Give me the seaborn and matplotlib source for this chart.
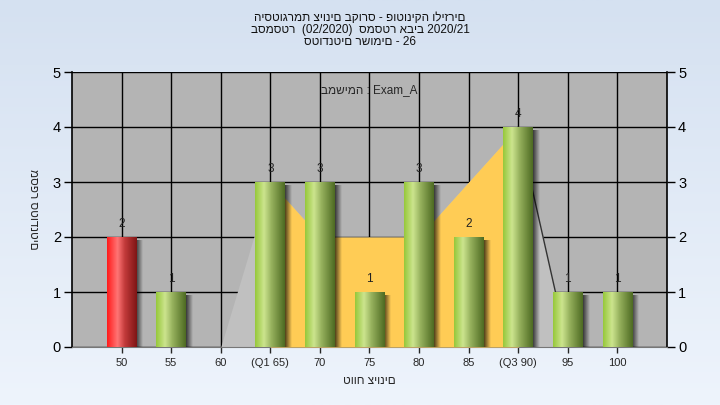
import numpy as np
import pandas as pd
import seaborn as sns
import matplotlib.pyplot as plt
from matplotlib.colors import LinearSegmentedColormap

# grade bins and counts
grades = ["50", "55", "60", "(Q1 65)", "70", "75", "80", "85", "(Q3 90)", "95", "100"]
counts = [2, 1, 0, 3, 3, 1, 3, 2, 4, 1, 1]
# background distribution polygon
area_vals = [0, 0, 0, 3, 2, 2, 2, 3, 4, 0, 0]
q1_idx, q3_idx = 3, 8

title_lines = ["היסטוגרמת ציונים בקורס - פוטוניקה וליזרים",
               "בסמסטר  (02/2020)  סמסטר אביב 2020/21",
               "סטודנטים רשומים - 26"]
task_text = "במשימה : Exam_A"
xlabel = "טווח ציונים"
ylabel = "מספר סטודנטים"

sns.set_style("white")
plt.rcParams['font.family'] = ['Liberation Sans', 'DejaVu Sans']

fig = plt.figure(figsize=(7.2, 4.05), dpi=100)

# figure background gradient
bg = fig.add_axes([0, 0, 1, 1], zorder=-10)
grad = np.linspace(0, 1, 256).reshape(-1, 1)
bg_cmap = LinearSegmentedColormap.from_list("bg", ["#d5e1f1", "#eef4fc"])
bg.imshow(grad, aspect="auto", cmap=bg_cmap, extent=[0, 1, 0, 1], origin="upper")
bg.axis("off")

ax = fig.add_axes([72 / 720, 58 / 405, 595 / 720, 275 / 405])
ax.set_facecolor("#b4b4b4")

df = pd.DataFrame({"grade": grades, "count": counts})
sns.barplot(data=df, x="grade", y="count", order=grades, width=0.6,
            color="#9bcb3c", ax=ax, zorder=5)

xs = np.arange(len(grades))

# grid lines behind area
for x in xs:
    ax.axvline(x, color="black", lw=1, zorder=1)
for y in range(0, 6):
    ax.axhline(y, color="black", lw=1, zorder=1)

# distribution area, yellow between quartiles
ax.fill_between(xs, area_vals, 0, color="#c0c0c0", lw=0, zorder=2)
inq = (xs >= q1_idx) & (xs <= q3_idx)
ax.fill_between(xs, area_vals, 0, where=inq, color="#ffcc55", lw=0, zorder=3)
ax.plot(xs[q3_idx:q3_idx + 2], area_vals[q3_idx:q3_idx + 2], color="#333333", lw=1, zorder=3)

green = LinearSegmentedColormap.from_list(
    "g", [(0, "#96c83a"), (0.3, "#cce48e"), (0.55, "#97b25e"), (1, "#4d6a22")])
red = LinearSegmentedColormap.from_list(
    "r", [(0, "#ff1a1a"), (0.35, "#ff7575"), (0.6, "#c23a3a"), (1, "#7e1515")])
hgrad = np.linspace(0, 1, 128).reshape(1, -1)
shadow = np.zeros((1, 64, 4))
shadow[0, :, 3] = np.linspace(0.7, 0, 64)

for i, p in enumerate(ax.patches):
    h = p.get_height()
    if h <= 0:
        p.set_visible(False)
        continue
    x0, w = p.get_x(), p.get_width()
    p.set_facecolor("none")
    p.set_edgecolor("none")
    cm = red if i == 0 else green
    ax.imshow(shadow, extent=[x0 + w, x0 + w + 0.14, 0, h - 0.06], aspect="auto",
              zorder=4, interpolation="bilinear")
    ax.imshow(hgrad, extent=[x0, x0 + w, 0, h], aspect="auto", cmap=cm,
              zorder=5, interpolation="bilinear")
    ax.text(xs[i], h + 0.12, str(counts[i]), ha="center", va="bottom",
            fontsize=8.5, color="#222222", zorder=6)

ax.set_xlim(-1, 11)
ax.set_ylim(0, 5)
ax.set_yticks(range(0, 6))
ax.set_xticks(xs)
ax.set_xticklabels(grades)
ax.tick_params(axis="y", direction="out", length=6, width=1, left=True, right=True,
               labelright=True, labelsize=10.5, colors="black", pad=2)
ax.tick_params(axis="x", direction="out", length=4, width=1, bottom=True,
               labelsize=8, pad=4)
for s in ["left", "right"]:
    ax.spines[s].set_color("black")
    ax.spines[s].set_linewidth(1.2)
ax.spines["top"].set_visible(False)
ax.spines["bottom"].set_color("#777777")

ax.set_xlabel(xlabel, fontsize=8.5, labelpad=5)
ax.set_ylabel(ylabel, fontsize=8.5, rotation=270, va="bottom")
ax.yaxis.set_label_coords(-0.075, 0.5)

ax.text(0.5, 0.955, task_text, transform=ax.transAxes, ha="center", va="top",
        fontsize=8.5, zorder=7)

for k, line in enumerate(title_lines):
    fig.text(0.5, 1 - (18 + 12 * k) / 405, line, ha="center", va="center",
             fontsize=8.5, color="#111111")

fig.savefig("out.png", dpi=100)
